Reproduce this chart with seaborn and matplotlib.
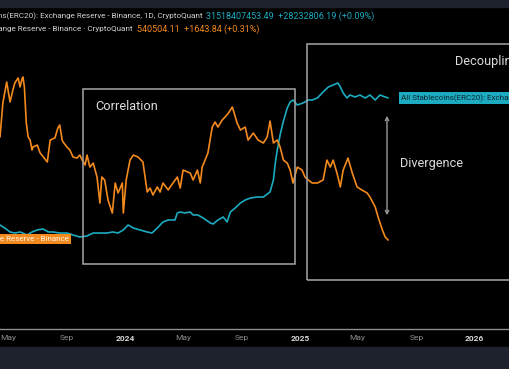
import pandas as pd
import matplotlib.pyplot as plt
from matplotlib.patches import Rectangle, FancyArrowPatch
import seaborn as sns

# All Stablecoins (ERC20) exchange reserve on Binance, USD bn
stable_dates = ["2023-04-14", "2023-04-24", "2023-05-05", "2023-05-15", "2023-05-26", "2023-06-10", "2023-06-20",
                "2023-07-01", "2023-07-13", "2023-07-24", "2023-08-03", "2023-08-17", "2023-09-01", "2023-09-14",
                "2023-09-28", "2023-10-13", "2023-10-26", "2023-11-09", "2023-11-24", "2023-12-06", "2023-12-17",
                "2023-12-28", "2024-01-07", "2024-01-18", "2024-02-01", "2024-02-16", "2024-02-26", "2024-03-08",
                "2024-03-20", "2024-03-31", "2024-04-14", "2024-04-19", "2024-04-25", "2024-05-05", "2024-05-16",
                "2024-05-22", "2024-06-01", "2024-06-12", "2024-06-27", "2024-07-03", "2024-07-13", "2024-07-24",
                "2024-08-01", "2024-08-08", "2024-08-18", "2024-08-29", "2024-09-08", "2024-09-19", "2024-10-03",
                "2024-10-16", "2024-10-30", "2024-11-06", "2024-11-10", "2024-11-14", "2024-11-20", "2024-11-27",
                "2024-12-05", "2024-12-11", "2024-12-17", "2024-12-26", "2025-01-07", "2025-01-18", "2025-01-26",
                "2025-02-06", "2025-02-12", "2025-02-18", "2025-03-01", "2025-03-11", "2025-03-21", "2025-03-26",
                "2025-04-01", "2025-04-09", "2025-04-15", "2025-04-26", "2025-05-06", "2025-05-17", "2025-05-27",
                "2025-06-07", "2025-06-17", "2025-06-28", "2025-07-04"]
stable_bn = [10.65, 10.15, 9.50, 9.33, 9.50, 9.00, 9.50, 9.83, 9.99, 9.50,
             9.50, 9.33, 9.33, 9.00, 8.68, 8.84, 9.33, 9.33, 9.33, 9.50,
             9.33, 9.83, 10.65, 10.15, 9.83, 9.50, 9.33, 10.15, 11.14, 11.47,
             11.47, 12.62, 12.78, 12.62, 12.78, 12.29, 12.29, 11.80, 10.98, 10.81,
             11.47, 11.96, 11.14, 12.78, 13.44, 14.26, 14.75, 15.08, 15.24, 15.24,
             16.07, 18.04, 20.83, 22.96, 25.42, 27.72, 29.86, 30.84, 31.17, 30.35,
             30.68, 31.17, 31.17, 31.50, 31.99, 32.49, 33.31, 33.63, 33.96, 33.31,
             32.32, 31.50, 31.99, 31.66, 31.99, 31.50, 31.99, 31.17, 31.99, 31.66,
             31.52]

# BTC exchange reserve on Binance, thousand BTC
btc_dates = ["2023-04-14", "2023-04-20", "2023-04-28", "2023-05-05", "2023-05-11", "2023-05-15", "2023-05-22",
             "2023-05-26", "2023-05-30", "2023-06-01", "2023-06-04", "2023-06-08", "2023-06-12", "2023-06-16",
             "2023-06-20", "2023-06-22", "2023-07-01", "2023-07-07", "2023-07-22", "2023-07-28", "2023-08-07",
             "2023-08-13", "2023-08-17", "2023-08-22", "2023-08-24", "2023-09-01", "2023-09-07", "2023-09-14",
             "2023-09-22", "2023-09-28", "2023-10-03", "2023-10-09", "2023-10-13", "2023-10-19", "2023-10-26",
             "2023-11-03", "2023-11-09", "2023-11-13", "2023-11-19", "2023-11-26", "2023-12-05", "2023-12-11",
             "2023-12-17", "2023-12-26", "2023-12-28", "2024-01-03", "2024-01-11", "2024-01-18", "2024-01-28",
             "2024-02-07", "2024-02-16", "2024-02-22", "2024-02-28", "2024-03-08", "2024-03-14", "2024-03-20",
             "2024-03-31", "2024-04-04", "2024-04-19", "2024-04-25", "2024-05-01", "2024-05-16", "2024-05-22",
             "2024-05-31", "2024-06-06", "2024-06-10", "2024-06-16", "2024-06-22", "2024-07-01", "2024-07-07",
             "2024-07-13", "2024-07-22", "2024-07-28", "2024-08-04", "2024-08-12", "2024-08-14", "2024-08-22",
             "2024-08-29", "2024-09-08", "2024-09-14", "2024-09-25", "2024-10-05", "2024-10-16", "2024-10-24",
             "2024-10-30", "2024-11-06", "2024-11-14", "2024-11-20", "2024-11-27", "2024-12-05", "2024-12-11",
             "2024-12-17", "2024-12-26", "2025-01-05", "2025-01-11", "2025-01-18", "2025-01-26", "2025-02-06",
             "2025-02-18", "2025-02-26", "2025-03-05", "2025-03-11", "2025-03-19", "2025-03-26", "2025-04-01",
             "2025-04-11", "2025-04-20", "2025-04-30", "2025-05-10", "2025-05-21", "2025-05-27", "2025-06-07",
             "2025-06-13", "2025-06-22", "2025-06-28", "2025-07-04"]
btc_k = [616.0, 640.9, 656.3, 641.7, 650.5, 655.6, 659.3, 652.7, 658.5, 660.0,
         652.7, 626.3, 616.0, 613.8, 606.5, 608.7, 610.1, 604.3, 597.7, 613.8,
         615.3, 622.6, 624.8, 613.8, 612.3, 608.7, 606.5, 601.3, 600.6, 602.8,
         599.1, 595.5, 602.8, 594.0, 596.9, 586.7, 567.6, 586.7, 584.5, 569.8,
         560.3, 582.3, 575.0, 582.3, 560.3, 584.5, 599.1, 602.8, 601.3, 597.7,
         575.7, 578.6, 573.5, 579.4, 575.7, 582.3, 577.2, 579.4, 586.7, 578.6,
         591.8, 589.6, 584.5, 591.8, 582.3, 594.0, 599.1, 604.3, 623.3, 627.0,
         623.3, 628.5, 630.7, 633.6, 638.0, 635.8, 626.3, 621.1, 623.3, 613.8,
         618.9, 613.8, 611.6, 616.0, 627.7, 611.6, 613.8, 608.7, 599.1, 596.9,
         591.8, 582.3, 594.0, 591.8, 586.7, 584.5, 582.3, 582.3, 584.5, 599.1,
         594.0, 599.1, 589.6, 579.4, 591.8, 600.6, 589.6, 579.4, 577.2, 575.0,
         572.0, 564.7, 557.4, 547.8, 542.7, 540.5]

tick_dates = ["2023-05-01", "2023-09-01", "2024-01-01", "2024-05-01", "2024-09-01",
              "2025-01-01", "2025-05-01", "2025-09-01", "2026-01-01"]
tick_labels = ["May", "Sep", "2024", "May", "Sep", "2025", "May", "Sep", "2026"]

CYAN = "#1cabc0"
ORANGE = "#f28a1e"
PANEL = "#1e222d"
W, H = 510, 369

sns.set_theme(style="dark")
plt.rcParams['font.family'] = ['Roboto', 'DejaVu Sans']


def fx(x):
    return x / W


def fy(y):
    return 1 - y / H


fig = plt.figure(figsize=(5.1, 3.69), dpi=100, facecolor="black")
ax = fig.add_axes([0, fy(329), 1, (329 - 7) / H])
ax.set_facecolor("black")
ax2 = ax.twinx()

sns.lineplot(x=pd.to_datetime(stable_dates), y=stable_bn, ax=ax, color=CYAN, lw=1.2)
sns.lineplot(x=pd.to_datetime(btc_dates), y=btc_k, ax=ax2, color=ORANGE, lw=1.2)

ax.set_xlim(pd.Timestamp("2023-04-14"), pd.Timestamp("2026-03-16"))
ax.set_ylim(-6.43, 46.44)
ax2.set_ylim(475.3, 711.3)
for a in (ax, ax2):
    a.set_yticks([])
    a.set_ylabel("")
    a.grid(False)
    for s in a.spines.values():
        s.set_visible(False)
ax.spines["bottom"].set_visible(True)
ax.spines["bottom"].set_color("#8e8e8e")
ax.spines["bottom"].set_linewidth(1)

ax.set_xticks(pd.to_datetime(tick_dates))
ax.set_xticklabels(tick_labels)
ax.tick_params(axis="x", length=0, pad=4, labelsize=6)
for lab in ax.get_xticklabels():
    if lab.get_text().isdigit():
        lab.set_fontweight("bold")
        lab.set_color("#d6d6d6")
    else:
        lab.set_color("#8c8c8c")

# dark panels top and bottom
fig.add_artist(Rectangle((0, 0), 1, fy(347), transform=fig.transFigure, color=PANEL, zorder=5))
fig.add_artist(Rectangle((0, fy(7)), 1, 7 / H, transform=fig.transFigure, color=PANEL, zorder=5))

# boxes
box_kw = dict(transform=fig.transFigure, fill=False, ec="#a6a6a6", lw=1.1, zorder=6)
fig.add_artist(Rectangle((fx(83), fy(264)), fx(295 - 83), (264 - 89) / H, **box_kw))
fig.add_artist(Rectangle((fx(307), fy(280)), fx(520 - 307), (280 - 44) / H, **box_kw))

txt_kw = dict(color="#dcdcdc", fontsize=9.2, va="center", ha="left", zorder=7)
fig.text(fx(95), fy(107), "Correlation", **txt_kw)
fig.text(fx(400), fy(163), "Divergence", **txt_kw)
fig.text(fx(455), fy(62), "Decoupling", **txt_kw)

fig.add_artist(FancyArrowPatch((fx(387), fy(113)), (fx(387), fy(218)), transform=fig.transFigure,
                               arrowstyle="<->", mutation_scale=6, color="#9a9a9a", lw=1, zorder=7))

# price labels
fig.text(fx(401), fy(98), "All Stablecoins(ERC20): Exchange Reserve - Binance", ha="left", va="center",
         fontsize=5.8, color="#0a2630", zorder=7,
         bbox=dict(boxstyle="square,pad=0.25", fc=CYAN, ec="none"))
fig.text(fx(69), fy(239), "Bitcoin: Exchange Reserve - Binance", ha="right", va="center",
         fontsize=5.8, color="#fff4e8", zorder=7,
         bbox=dict(boxstyle="square,pad=0.25", fc=ORANGE, ec="none"))

# legend lines
fig.text(fx(203), fy(16), "All Stablecoins(ERC20): Exchange Reserve - Binance, 1D, CryptoQuant",
         ha="right", va="center", fontsize=5.9, color="#cfcfcf", zorder=7)
fig.text(fx(206), fy(16), "31518407453.49  +28232806.19 (+0.09%)",
         ha="left", va="center", fontsize=6.5, color=CYAN, zorder=7)
fig.text(fx(133), fy(29), "Bitcoin: Exchange Reserve - Binance · CryptoQuant",
         ha="right", va="center", fontsize=5.9, color="#cfcfcf", zorder=7)
fig.text(fx(137), fy(29), "540504.11  +1643.84 (+0.31%)",
         ha="left", va="center", fontsize=6.5, color=ORANGE, zorder=7)

fig.savefig("out.png", dpi=100, facecolor="black")
